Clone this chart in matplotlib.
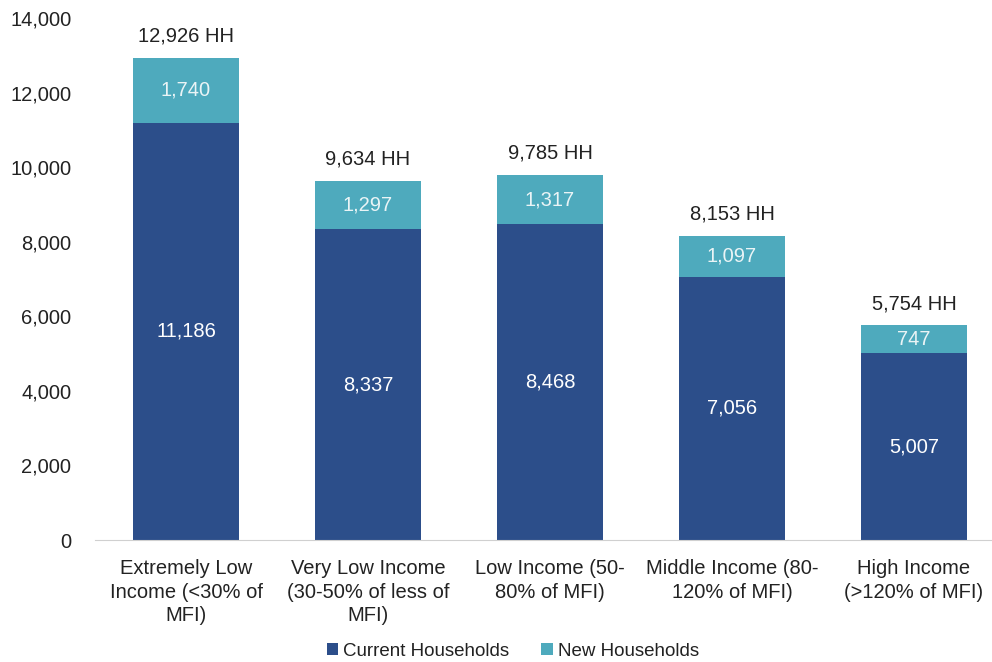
import matplotlib
matplotlib.use("Agg")
import matplotlib.pyplot as plt
import numpy as np

categories = [
    "Extremely Low\nIncome (<30% of\nMFI)",
    "Very Low Income\n(30-50% of less of\nMFI)",
    "Low Income (50-\n80% of MFI)",
    "Middle Income (80-\n120% of MFI)",
    "High Income\n(>120% of MFI)",
]
current = [11186, 8337, 8468, 7056, 5007]
new = [1740, 1297, 1317, 1097, 747]
totals = [12926, 9634, 9785, 8153, 5754]
yticks = [0, 2000, 4000, 6000, 8000, 10000, 12000, 14000]

dark = "#2C4E8A"
teal = "#4EAABD"

plt.rcParams["font.family"] = ["Liberation Sans", "DejaVu Sans"]

fig = plt.figure(figsize=(9.92, 6.62), dpi=100)
ax = fig.add_axes([95 / 992, 1 - 540 / 662, (992 - 95) / 992, (540 - 18) / 662])

x = np.arange(len(categories))
w = 0.577
ax.bar(x, current, w, color=dark, label="Current Households")
ax.bar(x, new, w, bottom=current, color=teal, label="New Households")

for xi, c, n, t in zip(x, current, new, totals):
    ax.text(xi, c / 2, f"{c:,}", ha="center", va="center", color="white", fontsize=14.5)
    ax.text(xi, c + n / 2, f"{n:,}", ha="center", va="center", color="#EAF4F6", fontsize=14.5)
    ax.text(xi, t + 330, f"{t:,} HH", ha="center", va="bottom", color="#222222", fontsize=14.5)

ax.set_ylim(0, 14000)
ax.set_xlim(-0.5, -0.5 + (992 - 95) / 182)
ax.set_yticks(yticks)
ax.set_yticklabels([f"{v:,}" for v in yticks], fontsize=14.5, color="#222222")
ax.set_xticks(x)
ax.set_xticklabels(categories, fontsize=14.5, color="#222222", linespacing=1.3)
ax.tick_params(axis="both", length=0)
ax.tick_params(axis="y", pad=17)
ax.tick_params(axis="x", pad=14)
for s in ["top", "right", "left"]:
    ax.spines[s].set_visible(False)
ax.spines["bottom"].set_color("#D0D0D0")

fig.legend(*ax.get_legend_handles_labels(), loc="center",
           bbox_to_anchor=(513 / 992, 1 - 651 / 662), ncol=2, frameon=False,
           fontsize=13.5, handlelength=0.6, handleheight=0.6, handletextpad=0.3,
           columnspacing=1.7, labelcolor="#222222", borderaxespad=0, borderpad=0)

fig.savefig("out.png", dpi=100)
